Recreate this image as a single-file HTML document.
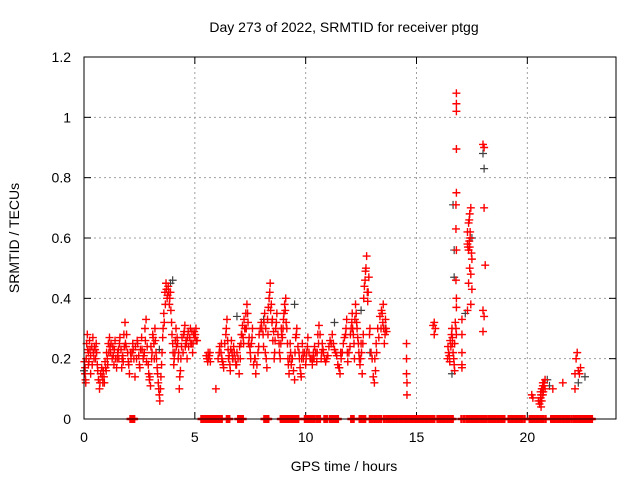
<!DOCTYPE html>
<html><head><meta charset="utf-8">
<style>
html,body{margin:0;padding:0;background:#fff;}
svg{display:block;font-family:"Liberation Sans",sans-serif;}
</style></head>
<body>
<svg id="chart" width="640" height="480" viewBox="0 0 640 480" xmlns="http://www.w3.org/2000/svg">
<rect x="0" y="0" width="640" height="480" fill="#fff"/>
<g id="grid"></g>
<g id="ticks"></g>
<g id="graypts"></g>
<g id="redpts"></g>
<rect x="84" y="57" width="532" height="362" fill="none" stroke="#000" stroke-width="1"/>
<text x="344" y="32" font-size="14" text-anchor="middle">Day 273 of 2022, SRMTID for receiver ptgg</text>
<text x="344" y="471" font-size="14" text-anchor="middle">GPS time / hours</text>
<text x="0" y="0" font-size="14" text-anchor="middle" transform="translate(19,238) rotate(-90)">SRMTID / TECUs</text>
</svg>
<script>
const xTicks=[0,5,10,15,20];
const yTicks=[0,0.2,0.4,0.6,0.8,1,1.2];
const yTickLabels=["0","0.2","0.4","0.6","0.8","1","1.2"];
const redX=[0.05,0.05,0.08,0.1,0.12,0.15,0.2,0.2,0.25,0.3,0.3,0.35,0.4,0.45,0.5,0.55,0.6,0.65,0.7,0.75,0.8,0.85,0.9,0.95,
1.0,1.05,1.1,1.15,1.2,1.3,1.35,1.4,1.5,1.55,1.6,1.7,1.75,1.8,1.85,1.9,2.0,
2.05,2.1,2.2,2.25,2.3,2.4,2.5,2.55,2.6,2.7,2.75,2.8,2.85,2.9,2.95,3.0,
3.05,3.1,3.15,3.2,3.25,3.3,3.35,3.4,3.42,3.45,3.5,3.55,3.6,3.65,3.7,3.75,3.8,3.85,3.9,3.95,4.0,
4.05,4.1,4.15,4.2,4.25,4.3,4.35,4.4,4.5,4.55,4.6,4.65,4.7,4.8,4.85,4.9,4.95,5.0,5.05,5.1,
5.55,5.6,5.65,5.7,5.95,
6.1,6.2,6.25,6.3,6.4,6.45,6.5,6.55,6.6,6.65,6.7,6.75,6.85,6.9,7.0,
7.05,7.1,7.15,7.2,7.25,7.3,7.35,7.4,7.45,7.5,7.55,7.6,7.7,7.75,7.85,7.9,8.0,
8.1,8.15,8.2,8.25,8.3,8.35,8.4,8.45,8.5,8.55,8.6,8.65,8.7,8.8,8.85,8.9,8.95,
9.0,9.05,9.1,9.15,9.2,9.25,9.3,9.35,9.4,9.5,9.55,9.6,9.7,9.75,9.8,9.85,9.9,
10.0,10.05,10.1,10.2,10.3,10.35,10.4,10.5,10.55,10.6,10.7,10.75,10.8,10.9,11.0,
11.1,11.2,11.3,11.4,11.5,11.55,11.6,11.7,11.8,11.85,11.9,12.0,
12.05,12.1,12.15,12.2,12.25,12.3,12.35,12.4,12.45,12.5,12.55,12.6,12.65,12.7,12.75,12.8,12.85,12.9,13.0,
13.1,13.15,13.2,13.3,13.4,13.45,13.5,13.55,13.6,13.65,
14.55,14.55,14.55,14.57,14.57,
15.75,15.8,15.85,15.8,
16.4,16.45,16.5,16.55,16.6,16.62,16.65,16.7,16.72,16.75,16.8,
16.8,16.8,16.8,16.8,16.8,16.78,16.78,16.8,16.78,16.8,16.8,
17.05,17.05,17.05,17.05,17.05,
17.3,17.35,17.4,17.35,17.4,17.45,17.3,17.4,17.45,17.5,17.35,17.5,17.3,17.45,
18.0,18.05,18.05,18.1,18.0,18.05,18.0,
20.2,20.25,20.5,20.55,20.6,20.65,20.7,20.75,20.7,20.6,20.8,20.62,21.15,21.6,22.15,22.2,22.25,22.3,22.35,22.4,22.15,
0.02,0.07,0.17,0.22,0.27,0.37,0.42,0.47,0.52,0.57,0.62,0.72,0.82,0.87,0.92,0.97,
1.02,1.07,1.12,1.17,1.22,1.27,1.32,1.37,1.42,1.47,1.52,1.57,1.62,1.67,1.72,1.77,1.82,1.87,1.92,1.97,
2.02,2.12,2.17,2.22,2.32,2.37,2.42,2.47,2.52,2.62,2.67,2.72,2.77,2.82,2.92,2.97,
3.02,3.07,3.12,3.17,3.22,3.27,3.32,3.37,3.47,3.52,3.57,3.62,3.67,3.72,3.77,3.82,3.87,3.92,3.97,
4.02,4.07,4.12,4.17,4.22,4.27,4.32,4.37,4.42,4.47,4.52,4.57,4.62,4.67,4.72,4.77,4.82,4.87,4.92,4.97,5.02,5.07,
5.52,5.58,5.62,5.68,
6.05,6.12,6.18,6.22,6.28,6.35,6.42,6.48,6.52,6.58,6.62,6.68,6.72,6.78,6.82,6.88,6.95,
7.02,7.08,7.12,7.18,7.22,7.28,7.32,7.38,7.42,7.48,7.52,7.58,7.65,7.72,7.8,7.88,7.95,
8.02,8.08,8.12,8.18,8.22,8.28,8.32,8.38,8.42,8.48,8.52,8.58,8.62,8.68,8.75,8.82,8.88,8.92,8.98,
9.02,9.08,9.12,9.18,9.22,9.28,9.32,9.38,9.45,9.52,9.58,9.65,9.72,9.78,9.82,9.88,9.95,
10.02,10.08,10.15,10.25,10.32,10.38,10.45,10.52,10.58,10.65,10.72,10.78,10.85,10.95,
11.05,11.15,11.25,11.35,11.45,11.52,11.58,11.65,11.75,11.82,11.88,11.95,
12.02,12.08,12.12,12.18,12.22,12.28,12.32,12.38,12.42,12.48,12.52,12.58,12.62,12.68,12.72,12.78,12.82,12.88,12.95,
13.05,13.12,13.18,13.25,13.35,13.42,13.48,13.52,13.58,13.62,
16.42,16.48,16.52,16.58,16.62,16.68,16.72,16.78,
17.32,17.38,17.42,17.48,17.38,17.42,
20.58,20.62,20.68,20.72,20.65,20.7,20.75,20.8];
const redY=[0.15,0.17,0.12,0.2,0.25,0.28,0.22,0.18,0.26,0.21,0.15,0.24,0.27,0.2,0.23,0.25,0.18,0.13,0.1,0.15,0.17,0.12,0.14,0.19,
0.16,0.2,0.25,0.27,0.22,0.24,0.18,0.26,0.2,0.23,0.25,0.17,0.21,0.28,0.32,0.24,0.19,
0.15,0.22,0.25,0.2,0.14,0.26,0.18,0.23,0.27,0.21,0.3,0.33,0.24,0.18,0.13,0.11,
0.2,0.28,0.25,0.3,0.22,0.17,0.12,0.08,0.06,0.1,0.18,0.27,0.35,0.42,0.45,0.4,0.44,0.38,0.42,0.32,0.25,
0.18,0.22,0.3,0.27,0.2,0.1,0.16,0.24,0.28,0.31,0.26,0.2,0.29,0.3,0.25,0.22,0.28,0.27,0.3,0.26,
0.2,0.22,0.21,0.19,0.1,
0.22,0.25,0.19,0.17,0.28,0.33,0.23,0.21,0.16,0.26,0.2,0.24,0.18,0.22,0.15,
0.2,0.28,0.31,0.25,0.3,0.35,0.38,0.32,0.27,0.22,0.25,0.3,0.2,0.15,0.22,0.28,0.32,
0.24,0.35,0.3,0.17,0.28,0.4,0.45,0.38,0.33,0.29,0.22,0.3,0.35,0.25,0.2,0.3,0.27,
0.33,0.38,0.4,0.3,0.2,0.15,0.25,0.18,0.2,0.13,0.27,0.3,0.22,0.17,0.14,0.25,0.2,
0.18,0.22,0.27,0.2,0.18,0.22,0.24,0.19,0.28,0.31,0.2,0.25,0.22,0.19,0.21,
0.26,0.28,0.23,0.21,0.17,0.15,0.2,0.25,0.28,0.33,0.19,0.24,
0.3,0.35,0.28,0.2,0.38,0.32,0.27,0.22,0.18,0.25,0.15,0.28,0.44,0.49,0.54,0.39,0.47,0.3,0.2,
0.12,0.16,0.22,0.27,0.3,0.35,0.38,0.25,0.33,0.29,
0.25,0.2,0.15,0.12,0.08,
0.31,0.32,0.3,0.28,
0.2,0.22,0.19,0.24,0.3,0.27,0.22,0.18,0.16,0.32,0.28,
1.08,1.045,1.02,0.895,0.75,0.71,0.63,0.56,0.46,0.4,0.37,
0.33,0.28,0.22,0.18,0.17,
0.58,0.56,0.57,0.65,0.68,0.7,0.62,0.5,0.48,0.43,0.45,0.53,0.36,0.38,
0.91,0.9,0.7,0.51,0.36,0.34,0.29,
0.08,0.07,0.06,0.05,0.09,0.1,0.12,0.11,0.08,0.07,0.13,0.04,0.1,0.12,0.15,0.2,0.22,0.16,0.15,0.17,0.1,
0.19,0.13,0.23,0.19,0.23,0.18,0.22,0.24,0.2,0.22,0.16,0.12,0.14,0.16,0.12,0.17,
0.22,0.18,0.22,0.24,0.25,0.2,0.21,0.23,0.2,0.17,0.22,0.2,0.27,0.23,0.2,0.19,0.24,0.25,0.28,0.22,
0.18,0.2,0.22,0.23,0.24,0.2,0.25,0.21,0.17,0.23,0.2,0.22,0.26,0.19,0.15,0.14,
0.24,0.22,0.27,0.2,0.26,0.2,0.15,0.1,0.14,0.22,0.3,0.32,0.38,0.43,0.41,0.42,0.4,0.36,0.28,
0.22,0.2,0.26,0.24,0.25,0.22,0.14,0.2,0.27,0.22,0.29,0.24,0.25,0.27,0.24,0.27,0.25,0.29,0.25,0.29,0.28,0.26,
0.21,0.19,0.2,0.22,
0.2,0.24,0.22,0.2,0.18,0.25,0.3,0.26,0.2,0.18,0.23,0.22,0.2,0.22,0.2,0.18,0.2,
0.24,0.25,0.28,0.27,0.33,0.3,0.3,0.35,0.25,0.24,0.2,0.27,0.18,0.2,0.18,0.24,0.3,
0.3,0.28,0.32,0.22,0.2,0.33,0.37,0.42,0.36,0.32,0.26,0.2,0.26,0.32,0.28,0.22,0.25,0.28,0.3,
0.35,0.36,0.32,0.25,0.18,0.2,0.22,0.2,0.16,0.22,0.28,0.24,0.2,0.15,0.2,0.22,0.22,
0.2,0.24,0.22,0.2,0.2,0.2,0.22,0.22,0.25,0.28,0.22,0.23,0.2,0.2,
0.24,0.25,0.25,0.22,0.18,0.17,0.22,0.22,0.27,0.3,0.22,0.22,
0.28,0.32,0.3,0.25,0.33,0.35,0.3,0.25,0.2,0.2,0.22,0.25,0.4,0.46,0.5,0.42,0.42,0.28,0.22,
0.14,0.2,0.25,0.3,0.34,0.36,0.32,0.3,0.28,0.3,
0.24,0.21,0.26,0.28,0.25,0.2,0.25,0.3,
0.57,0.59,0.6,0.55,0.66,0.62,
0.06,0.08,0.1,0.09,0.06,0.11,0.12,0.1];
const zeroX=[2.1,2.2,2.26,
5.3,5.4,5.5,5.6,5.67,5.76,5.85,5.93,6.02,6.1,6.21,6.45,6.55,6.96,7.06,7.16,8.14,8.23,8.31,
8.88,8.98,9.08,9.18,9.28,9.38,9.43,9.5,9.58,9.66,9.97,10.05,10.14,10.23,10.32,10.4,10.51,10.58,10.64,10.85,10.95,11.09,11.18,11.27,11.36,11.45,12.06,12.16,12.44,12.52,12.6,12.68,
12.9,13.0,13.1,13.2,13.3,13.4,13.54,13.65,13.75,13.85,13.95,14.05,14.15,14.25,14.35,14.45,14.55,14.65,14.76,14.8,14.9,15.0,15.1,15.2,15.3,15.4,15.5,15.6,15.7,15.8,15.95,16.05,16.15,16.25,16.35,16.45,16.55,16.63,
17.03,17.15,17.27,17.34,17.42,17.51,17.58,17.66,17.75,17.8,17.9,17.98,18.04,18.14,18.25,18.35,18.45,18.55,18.65,18.75,18.85,18.96,19.16,19.26,19.36,19.46,19.56,19.66,19.76,19.87,20.11,20.21,20.31,20.41,20.51,20.61,20.71,20.82,21.08,21.18,21.28,21.38,21.48,21.58,21.68,21.78,21.88,21.99,22.1,22.2,22.3,22.4,22.5,22.6,22.67,22.74,22.82,22.91];
const grayX=[0.0,3.4,3.9,4.0,6.9,7.3,8.1,9.5,11.3,12.5,12.9,13.6,16.6,16.65,16.7,16.7,17.2,17.5,18.0,18.05,20.9,21.0,22.3,22.6];
const grayY=[0.16,0.23,0.45,0.46,0.34,0.3,0.33,0.38,0.32,0.36,0.22,0.3,0.15,0.71,0.56,0.47,0.35,0.6,0.88,0.83,0.13,0.11,0.12,0.14];

const L=84,R=616,T=57,B=419,XMAX=24,YMAX=1.2;
const NS="http://www.w3.org/2000/svg";
function sx(v){return L+(R-L)*v/XMAX;}
function sy(v){return B-(B-T)*v/YMAX;}
function mk(tag,attrs,parent){const e=document.createElementNS(NS,tag);for(const k in attrs)e.setAttribute(k,attrs[k]);parent.appendChild(e);return e;}
const grid=document.getElementById('grid'),ticks=document.getElementById('ticks');
xTicks.forEach((t,i)=>{
  const x=sx(t);
  if(t>0){const g=mk('line',{x1:x,x2:x,y1:T,y2:B,stroke:'#a0a0a0','stroke-dasharray':'2,3','stroke-width':1},grid);
  
  }
  const a=mk('line',{x1:x,x2:x,y1:B,y2:B-7,stroke:'#000'},ticks);
  
  
  const b=mk('line',{x1:x,x2:x,y1:T,y2:T+7,stroke:'#000'},ticks);
  
  
  const l=mk('text',{x:x,y:B+23,'font-size':14,'text-anchor':'middle'},ticks);
  l.textContent=String(t);
  
  
});
yTicks.forEach((t,i)=>{
  const y=sy(t);
  if(t>0&&t<YMAX){const g=mk('line',{x1:L,x2:R,y1:y,y2:y,stroke:'#a0a0a0','stroke-dasharray':'2,3','stroke-width':1},grid);
  
  }
  const a=mk('line',{x1:L,x2:L+7,y1:y,y2:y,stroke:'#000'},ticks);
  
  
  const b=mk('line',{x1:R,x2:R-7,y1:y,y2:y,stroke:'#000'},ticks);
  
  
  const l=mk('text',{x:L-13,y:y+5,'font-size':14,'text-anchor':'end'},ticks);
  l.textContent=yTickLabels[i];
  
  
});
function plus(x,y,color,parent,name,sw){
  const p=mk('path',{d:`M${x-4},${y}h8M${x},${y-4}v8`,stroke:color,'stroke-width':sw,fill:'none'},parent);
  
  
}
const gp=document.getElementById('graypts'),rp=document.getElementById('redpts');
grayX.forEach((v,i)=>plus(sx(v),sy(grayY[i]),'#404040',gp,'gray-point',1.2));
redX.forEach((v,i)=>plus(sx(v),sy(redY[i]),'#ff0000',rp,'red-point',1.4));
zeroX.forEach(v=>plus(sx(v),sy(0),'#ff0000',rp,'zero-point',2.5));
</script>
</body></html>
